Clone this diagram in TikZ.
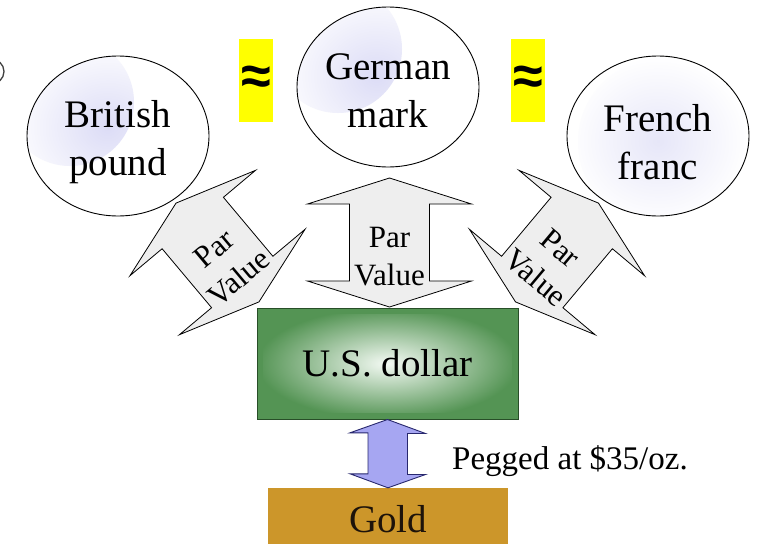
\documentclass[tikz,border=0pt]{standalone}
\usepackage{fontspec}
\setmainfont{Liberation Serif}
\newfontfamily\symfont{Liberation Sans}
\usetikzlibrary{shapes.geometric}
\definecolor{parfill}{RGB}{238,238,238}
\definecolor{dollargreen}{RGB}{84,148,84}
\definecolor{dollarlight}{RGB}{244,250,244}
\definecolor{dollaredge}{RGB}{40,78,40}
\definecolor{goldfill}{RGB}{204,150,42}
\definecolor{pegfill}{RGB}{166,166,242}
\definecolor{pegedge}{RGB}{40,40,110}
\definecolor{glow}{RGB}{220,220,246}
\definecolor{glowsoft}{RGB}{230,230,248}
\definecolor{approxyellow}{RGB}{255,255,0}
\tikzset{
  currency/.style={ellipse, draw, line width=0.9pt, fill=white, minimum width=182pt,
    minimum height=160pt, inner sep=0pt},
  curtext/.style={inner sep=0pt, align=center, font=\fontsize{39}{48}\selectfont},
  parstyle/.style={draw, line width=0.8pt, fill=parfill, line join=miter},
  partext/.style={inner sep=0pt, align=center, font=\fontsize{31}{38}\selectfont},
  approxbox/.style={fill=approxyellow, minimum width=34pt, minimum height=83pt, inner sep=0pt,
    font=\symfont\bfseries\fontsize{54}{54}\selectfont},
  pegstyle/.style={draw=pegedge, line width=0.9pt, fill=pegfill, line join=miter},
}
\begin{document}
\begin{tikzpicture}[x=1pt,y=-1pt]
\useasboundingbox (0,0) rectangle (764,544);
\clip (0,0) rectangle (764,544);
\fill[white] (0,0) rectangle (764,544);

% stray fragment at the left edge
\draw[line width=1.3pt, black!75] (-10,71.5) ellipse (14pt and 13pt);

% Par value arrows
\begin{scope}[shift={(389.5,242.5)}]
  \draw[parstyle] (0,-64.5) -- (82,-38.5) -- (40,-38.5) -- (40,38.5) -- (82,38.5) -- (0,64.5)
    -- (-82,38.5) -- (-40,38.5) -- (-40,-38.5) -- (-82,-38.5) -- cycle;
  \node[partext] (pvM) at (0,14) {Par\\Value};
\end{scope}
\begin{scope}[shift={(217.5,252.5)}, rotate=40]
  \draw[parstyle] (0,-64.5) -- (82,-38.5) -- (40,-38.5) -- (40,38.5) -- (82,38.5) -- (0,64.5)
    -- (-82,38.5) -- (-40,38.5) -- (-40,-38.5) -- (-82,-38.5) -- cycle;
  \node[partext, transform shape] (pvL) at (0,14) {Par\\Value};
\end{scope}
\begin{scope}[shift={(557,252.5)}, rotate=-40]
  \draw[parstyle] (0,-64.5) -- (82,-38.5) -- (40,-38.5) -- (40,38.5) -- (82,38.5) -- (0,64.5)
    -- (-82,38.5) -- (-40,38.5) -- (-40,-38.5) -- (-82,-38.5) -- cycle;
  \node[partext, transform shape] (pvR) at (0,14) {Par\\Value};
\end{scope}

% currencies
\node[currency, path picture={\shade[inner color=glow, outer color=white]
   ([shift={(-48pt,34pt)}]path picture bounding box.center) circle (64pt);}]
   (gbp) at (118,136) {};
\node[curtext] (gbpT) at ([yshift=-6pt]gbp.center) {British\\pound};
\node[currency, path picture={\shade[inner color=glow, outer color=white]
   ([shift={(-50pt,38pt)}]path picture bounding box.center) circle (64pt);}]
   (dem) at (388,87) {};
\node[curtext] (demT) at ([yshift=-4pt]dem.center) {German\\mark};
\node[currency, path picture={\shade[inner color=glowsoft, outer color=white]
   ([shift={(4pt,-6pt)}]path picture bounding box.center) circle (84pt);}]
   (frf) at (658,136) {};
\node[curtext] (frfT) at ([yshift=-6pt]frf.center) {French\\franc};

% approximately-equal markers
\node[approxbox] (ap1) at (256,80.5) {≈};
\node[approxbox] (ap2) at (528,80.5) {≈};

% US dollar and gold
\node[draw=dollaredge, line width=1pt, minimum width=261pt, minimum height=111pt, inner sep=0pt,
  fill=dollargreen, path picture={\shade[inner color=dollarlight, outer color=dollargreen]
   ([shift={(-124pt,-49pt)}]path picture bounding box.center) rectangle
   ([shift={(124pt,49pt)}]path picture bounding box.center);},
  font=\fontsize{39}{48}\selectfont]
  (usd) at (387.5,363.5) {U.S. dollar};
\node[fill=goldfill, minimum width=240pt, minimum height=62pt, inner sep=0pt,
  text=black!85!brown, font=\fontsize{39}{48}\selectfont]
  (gold) at (388,519) {Gold};

% peg arrow
\draw[pegstyle] (usd.south) -- ++(38,14) -- ++(-18,0) -- ++(0,41) -- ++(18,0) -- (gold.north)
  -- ++(-38,-14) -- ++(18,0) -- ++(0,-41) -- ++(-18,0) -- cycle;
\node[inner sep=0pt, font=\fontsize{33}{40}\selectfont, anchor=west] (peg) at (452,461)
  {Pegged at \$35/oz.};
\end{tikzpicture}
\end{document}
